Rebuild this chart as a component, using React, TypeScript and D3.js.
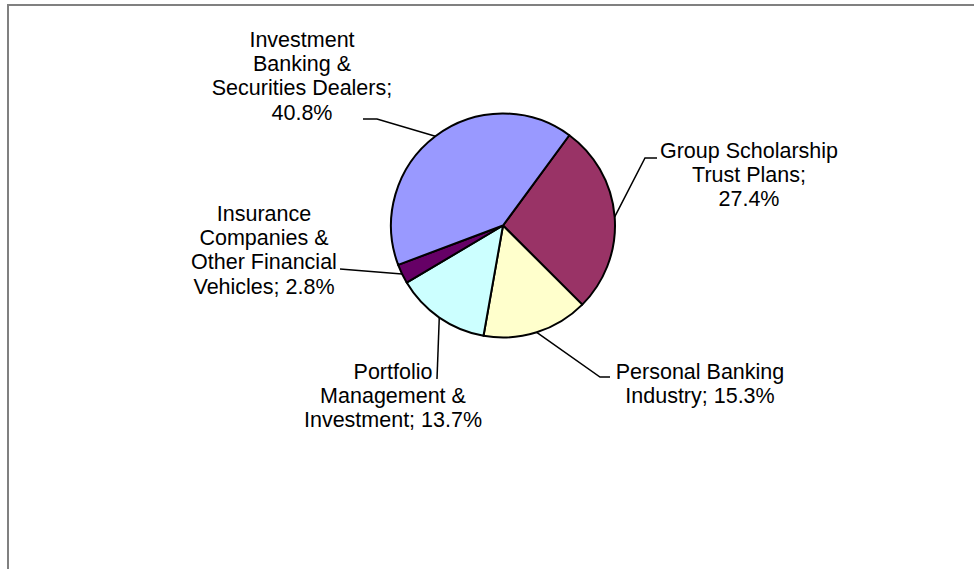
import React from "react";
import * as d3 from "d3";

const categories = [
  "Group Scholarship Trust Plans",
  "Personal Banking Industry",
  "Portfolio Management & Investment",
  "Insurance Companies & Other Financial Vehicles",
  "Investment Banking & Securities Dealers",
];
const values = [27.4, 15.3, 13.7, 2.8, 40.8];
const labelLines = [
  ["Group Scholarship", "Trust Plans;", "27.4%"],
  ["Personal Banking", "Industry; 15.3%"],
  ["Portfolio", "Management &", "Investment; 13.7%"],
  ["Insurance", "Companies &", "Other Financial", "Vehicles; 2.8%"],
  ["Investment", "Banking &", "Securities Dealers;", "40.8%"],
];
const colors = ["#993366", "#FFFFCC", "#CCFFFF", "#660066", "#9999FF"];

// layout (label placement, leader elbows)
const layout = [
  { cx: 749, y0: 158, elbow: [645, 158], end: [657, 158] },
  { cx: 700, y0: 379, elbow: [600, 377], end: [610, 377] },
  { cx: 393, y0: 379, elbow: null, end: [437, 379] },
  { cx: 264, y0: 221, elbow: null, end: [340, 269] },
  { cx: 302, y0: 47, elbow: [377, 119], end: [363, 119] },
];

const W = 974;
const H = 569;
const CX = 503;
const CY = 225.5;
const R = 112;
const START = (36.3 * Math.PI) / 180;
const LH = 24.2;

export default function App() {
  const pie = d3
    .pie<number>()
    .sort(null)
    .value((d) => d)
    .startAngle(START)
    .endAngle(START + 2 * Math.PI);
  const arcs = pie(values);
  const arc = d3.arc<d3.PieArcDatum<number>>().innerRadius(0).outerRadius(R);

  return (
    <svg
      width={W}
      height={H}
      style={{ position: "absolute", left: 0, top: 0, background: "#fff" }}
      fontFamily="'Liberation Sans', Arial, sans-serif"
    >
      <path d={`M8,${H} V5 H${W}`} fill="none" stroke="#808080" strokeWidth={2} />
      <g transform={`translate(${CX},${CY})`}>
        {arcs.map((a, i) => (
          <path
            key={categories[i]}
            d={arc(a) || ""}
            fill={colors[i]}
            stroke="#000"
            strokeWidth={2}
            strokeLinejoin="round"
          />
        ))}
      </g>
      {arcs.map((a, i) => {
        const mid = (a.startAngle + a.endAngle) / 2;
        const px = CX + R * Math.sin(mid);
        const py = CY - R * Math.cos(mid);
        const L = layout[i];
        const pts: number[][] = [[px, py]];
        if (L.elbow) pts.push(L.elbow);
        pts.push(L.end);
        const line = d3.line()(pts as [number, number][]) || "";
        return (
          <g key={"l" + i}>
            <path d={line} fill="none" stroke="#000" strokeWidth={1.5} />
            <text textAnchor="middle" fontSize={21.5} fill="#000">
              {labelLines[i].map((t, j) => (
                <tspan key={j} x={L.cx} y={L.y0 + j * LH}>
                  {t}
                </tspan>
              ))}
            </text>
          </g>
        );
      })}
    </svg>
  );
}
